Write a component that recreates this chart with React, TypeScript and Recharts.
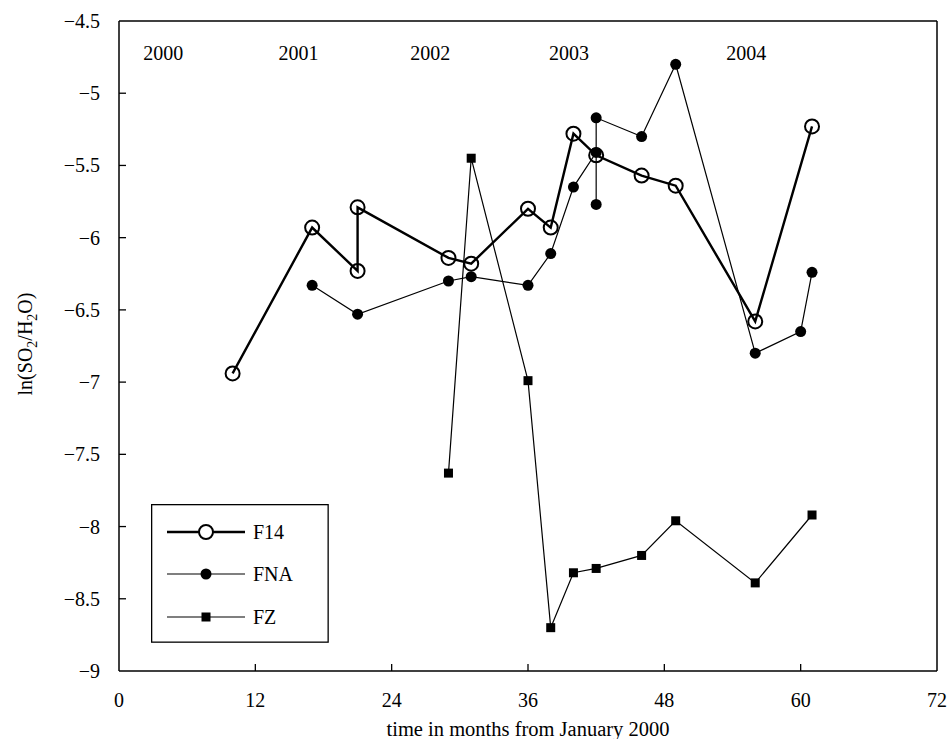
import React from 'react';
import {
  LineChart,
  Line,
  XAxis,
  YAxis,
  Legend,
  ReferenceDot,
} from 'recharts';

// months from January 2000 and ln(SO2/H2O) values
const f14Months = [10, 17, 21, 21, 29, 31, 36, 38, 40, 42, 46, 49, 56, 61];
const f14Values = [-6.94, -5.93, -6.23, -5.79, -6.14, -6.18, -5.8, -5.93, -5.28, -5.43, -5.57, -5.64, -6.58, -5.23];

const fnaMonths = [17, 21, 29, 31, 36, 38, 40, 42, 42, 42, 46, 49, 56, 60, 61];
const fnaValues = [-6.33, -6.53, -6.3, -6.27, -6.33, -6.11, -5.65, -5.41, -5.77, -5.17, -5.3, -4.8, -6.8, -6.65, -6.24];

const fzMonths = [29, 31, 36, 38, 40, 42, 46, 49, 56, 61];
const fzValues = [-7.63, -5.45, -6.99, -8.7, -8.32, -8.29, -8.2, -7.96, -8.39, -7.92];

const xTicks = [0, 12, 24, 36, 48, 60, 72];
const yTicks = [-9, -8.5, -8, -7.5, -7, -6.5, -6, -5.5, -5, -4.5];

const yearLabels = ['2000', '2001', '2002', '2003', '2004'];
const yearLabelMonths = [3.9, 15.8, 27.4, 39.6, 55.2];
const yearLabelLevel = -4.72;

const seriesNames = ['F14', 'FNA', 'FZ'];

const zip = (xs: number[], ys: number[]) => xs.map((x, i) => ({ x, y: ys[i] }));

const f14Data = zip(f14Months, f14Values);
const fnaData = zip(fnaMonths, fnaValues);
const fzData = zip(fzMonths, fzValues);

const FONT = '"Liberation Serif", "Times New Roman", serif';
const minus = (v: number) => String(v).replace('-', '\u2212');
const TICK_LEN = 7;

const SquareDot = (props: any) => {
  const { cx, cy, index } = props;
  if (cx == null || cy == null) return null;
  return <rect key={`sq-${index}`} x={cx - 4.5} y={cy - 4.5} width={9} height={9} fill="#000" />;
};

// inward ticks: the tick lines are drawn here, next to the label
const BottomTick = (props: any) => {
  const { x, y, payload } = props;
  const axisY = y - 22;
  return (
    <g>
      {payload.value !== 0 && payload.value !== 72 && (
        <line x1={x} x2={x} y1={axisY} y2={axisY - TICK_LEN} stroke="#000" strokeWidth={1.3} />
      )}
      <text x={x} y={y + 14} textAnchor="middle" fontFamily={FONT} fontSize={20} fill="#000">
        {payload.value}
      </text>
    </g>
  );
};

const LeftTick = (props: any) => {
  const { x, y, payload } = props;
  const axisX = x + 19;
  return (
    <g>
      {payload.value !== -9 && payload.value !== -4.5 && (
        <line x1={axisX} x2={axisX + TICK_LEN} y1={y} y2={y} stroke="#000" strokeWidth={1.3} />
      )}
      <text x={x} y={y + 7} textAnchor="end" fontFamily={FONT} fontSize={20} fill="#000">
        {minus(payload.value)}
      </text>
    </g>
  );
};

const TopTick = (props: any) => {
  const { x, y, payload } = props;
  if (payload.value === 0 || payload.value === 72) return <g />;
  return <line x1={x} x2={x} y1={y} y2={y + TICK_LEN} stroke="#000" strokeWidth={1.3} />;
};

const RightTick = (props: any) => {
  const { x, y, payload } = props;
  if (payload.value === -9 || payload.value === -4.5) return <g />;
  return <line x1={x} x2={x - TICK_LEN} y1={y} y2={y} stroke="#000" strokeWidth={1.3} />;
};

const LegendBox = () => {
  const rows = [28, 70, 113];
  return (
    <svg width={178} height={139} style={{ display: 'block' }}>
      <rect x={0.65} y={0.65} width={176.5} height={137.5} fill="#fff" stroke="#000" strokeWidth={1.3} />
      <line x1={16} x2={94} y1={rows[0]} y2={rows[0]} stroke="#000" strokeWidth={2.4} />
      <circle cx={55} cy={rows[0]} r={7} fill="#fff" stroke="#000" strokeWidth={2} />
      <line x1={16} x2={94} y1={rows[1]} y2={rows[1]} stroke="#000" strokeWidth={1.2} />
      <circle cx={55} cy={rows[1]} r={5.5} fill="#000" />
      <line x1={16} x2={94} y1={rows[2]} y2={rows[2]} stroke="#000" strokeWidth={1.2} />
      <rect x={50.5} y={rows[2] - 4.5} width={9} height={9} fill="#000" />
      {seriesNames.map((n, i) => (
        <text key={n} x={102} y={rows[i] + 7} fontFamily={FONT} fontSize={20} fill="#000">
          {n}
        </text>
      ))}
    </svg>
  );
};

const YTitle = () => (
  <text
    x={0}
    y={0}
    transform="translate(32, 344) rotate(-90)"
    textAnchor="middle"
    fontFamily={FONT}
    fontSize={20}
    fill="#000"
  >
    ln(SO
    <tspan fontSize={14} dy={5}>2</tspan>
    <tspan dy={-5}>/H</tspan>
    <tspan fontSize={14} dy={5}>2</tspan>
    <tspan dy={-5}>O)</tspan>
  </text>
);

const axisLine = { stroke: '#000', strokeWidth: 1.5 };

export default function App() {
  return (
    <div style={{ position: 'absolute', left: 0, top: 0, background: '#fff' }}>
      <LineChart width={950} height={739} margin={{ top: 0, right: 0, bottom: 0, left: 0 }}>
        <XAxis
          xAxisId="bottom"
          type="number"
          dataKey="x"
          domain={[0, 72]}
          ticks={xTicks}
          height={68}
          tickSize={0}
          tickMargin={22}
          axisLine={axisLine}
          tickLine={false}
          tick={BottomTick}
          label={{
            value: 'time in months from January 2000',
            position: 'insideBottom',
            offset: 3,
            style: { fontFamily: FONT, fontSize: 20.5, fill: '#000' },
          }}
        />
        <XAxis
          xAxisId="top"
          orientation="top"
          type="number"
          dataKey="x"
          domain={[0, 72]}
          ticks={xTicks}
          height={21}
          tickSize={0}
          tickMargin={0}
          axisLine={axisLine}
          tickLine={false}
          tick={TopTick}
        />
        <YAxis
          yAxisId="left"
          type="number"
          domain={[-9, -4.5]}
          ticks={yTicks}
          width={119}
          tickSize={0}
          tickMargin={19}
          axisLine={axisLine}
          tickLine={false}
          tick={LeftTick}
          label={<YTitle />}
        />
        <YAxis
          yAxisId="right"
          orientation="right"
          type="number"
          domain={[-9, -4.5]}
          ticks={yTicks}
          width={13}
          tickSize={0}
          tickMargin={0}
          axisLine={axisLine}
          tickLine={false}
          tick={RightTick}
        />
        {yearLabels.map((label, i) => (
          <ReferenceDot
            key={label}
            xAxisId="bottom"
            yAxisId="left"
            x={yearLabelMonths[i]}
            y={yearLabelLevel}
            r={0}
            stroke="none"
            fill="none"
            label={{ value: label, position: 'center', style: { fontFamily: FONT, fontSize: 20, fill: '#000' } }}
          />
        ))}
        <Line
          xAxisId="bottom"
          yAxisId="left"
          data={fzData}
          dataKey="y"
          name="FZ"
          stroke="#000"
          strokeWidth={1.2}
          dot={SquareDot}
          activeDot={false}
          isAnimationActive={false}
        />
        <Line
          xAxisId="bottom"
          yAxisId="left"
          data={fnaData}
          dataKey="y"
          name="FNA"
          stroke="#000"
          strokeWidth={1.2}
          dot={{ r: 5.5, fill: '#000', stroke: 'none' }}
          activeDot={false}
          isAnimationActive={false}
        />
        <Line
          xAxisId="bottom"
          yAxisId="left"
          data={f14Data}
          dataKey="y"
          name="F14"
          stroke="#000"
          strokeWidth={2.4}
          dot={{ r: 7, fill: 'none', stroke: '#000', strokeWidth: 2 }}
          activeDot={false}
          isAnimationActive={false}
        />
        <Legend
          layout="horizontal"
          verticalAlign="middle"
          align="center"
          content={() => <LegendBox />}
          wrapperStyle={{ left: 151, top: 504, width: 178, height: 139 }}
        />
      </LineChart>
    </div>
  );
}
